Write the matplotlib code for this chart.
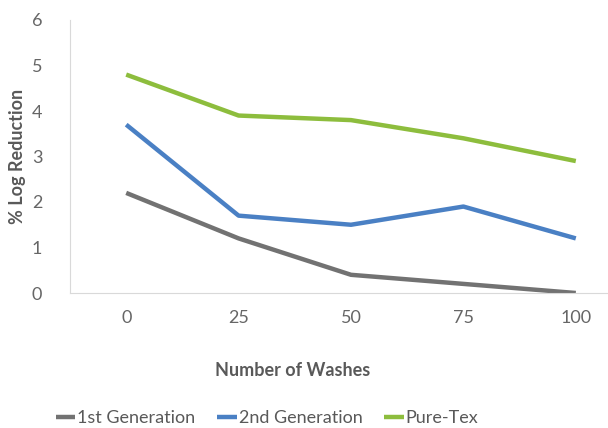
import matplotlib.pyplot as plt

washes = ["0", "25", "50", "75", "100"]
gen1 = [2.2, 1.2, 0.4, 0.2, 0.0]
gen2 = [3.7, 1.7, 1.5, 1.9, 1.2]
puretex = [4.8, 3.9, 3.8, 3.4, 2.9]

plt.rcParams['font.family'] = ['Lato', 'DejaVu Sans']
text_col = '#595959'

fig = plt.figure(figsize=(6.08, 4.28), dpi=100)
ax = fig.add_axes([70 / 608, 135 / 428, 562 / 608, 273 / 428])

x = range(len(washes))
ax.plot(x, gen1, color='#727272', lw=3.2, label='1st Generation', solid_capstyle='butt')
ax.plot(x, gen2, color='#4a80c4', lw=3.2, label='2nd Generation', solid_capstyle='butt')
ax.plot(x, puretex, color='#8dbd3d', lw=3.2, label='Pure-Tex', solid_capstyle='butt')

ax.set_xlim(-0.5, len(washes) - 0.5)
ax.set_ylim(0, 6)
ax.set_xticks(list(x))
ax.set_xticklabels(washes)
ax.set_yticks(range(7))
ax.tick_params(length=0, labelsize=13, colors='#666666', pad=12)
ax.tick_params(axis='y', pad=20)

for s in ['top', 'right']:
    ax.spines[s].set_visible(False)
ax.spines['left'].set_color('#d9d9d9')
ax.spines['bottom'].set_color('#d9d9d9')

fig.text(293 / 608, 1 - 370 / 428, 'Number of Washes', fontsize=13, fontweight='bold',
         color=text_col, ha='center', va='center')
ax.set_ylabel('% Log Reduction', fontsize=13, fontweight='bold', color=text_col, labelpad=4)

leg = fig.legend(loc='center', bbox_to_anchor=(267 / 608, 1 - 418 / 428), ncol=3, frameon=False,
                 fontsize=13, handlelength=1.1, handletextpad=0.1, columnspacing=1.2)
for t in leg.get_texts():
    t.set_color(text_col)

fig.savefig('out.png', dpi=100)
